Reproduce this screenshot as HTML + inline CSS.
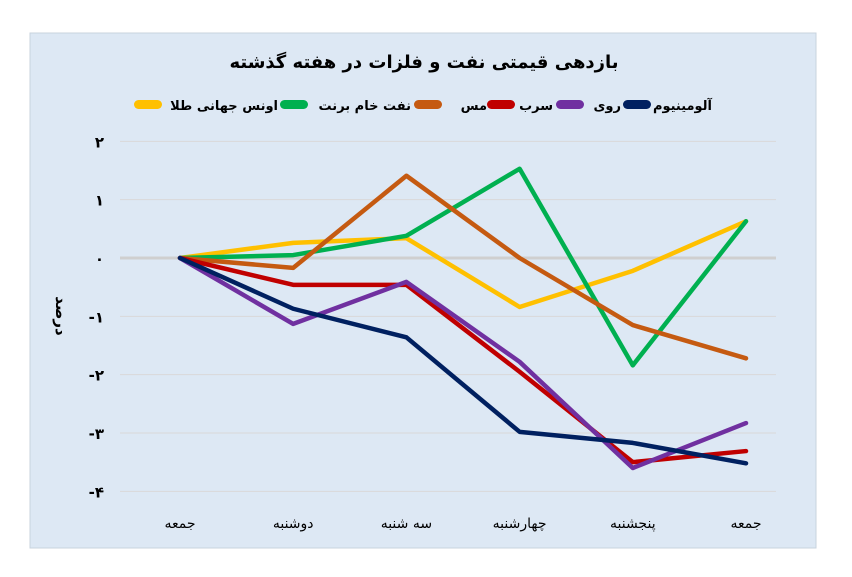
<!DOCTYPE html>
<html><head><meta charset="utf-8">
<style>
html,body{margin:0;padding:0;background:#fff;}
svg{display:block;font-family:"DejaVu Sans","Liberation Sans",sans-serif;}
</style></head>
<body>
<svg id="chart" width="852" height="577" viewBox="0 0 852 577" xmlns="http://www.w3.org/2000/svg">
<rect x="30" y="33" width="786" height="515" fill="#dde8f4" stroke="#c8d3de"/>
<text x="424" y="68" text-anchor="middle" font-size="18" font-weight="bold" fill="#000" direction="rtl">بازدهی قیمتی نفت و فلزات در هفته گذشته</text>
<g id="legend"></g>
<g id="grid"></g>
<g id="yaxis"></g>
<g id="xaxis"></g>
<text transform="translate(56,316) rotate(90)" text-anchor="middle" font-size="15" font-weight="bold" fill="#000" direction="rtl">درصد</text>
<g id="series"></g>
</svg>
<script>
const categories = ["جمعه","دوشنبه","سه شنبه","چهارشنبه","پنجشنبه","جمعه"];
const yTicks = [2,1,0,-1,-2,-3,-4];
const yTickLabels = ["۲","۱","۰","-۱","-۲","-۳","-۴"];
const seriesNames = ["اونس جهانی طلا","نفت خام برنت","مس","سرب","روی","آلومینیوم"];
const seriesColors = ["#ffc000","#00b050","#c55a11","#c00000","#7030a0","#002060"];
const gold = [0,0.26,0.34,-0.84,-0.22,0.63];
const brent = [0,0.05,0.38,1.53,-1.84,0.63];
const copper = [0,-0.17,1.41,0,-1.15,-1.72];
const lead = [0,-0.46,-0.46,-1.95,-3.5,-3.31];
const zinc = [0,-1.13,-0.41,-1.78,-3.6,-2.83];
const aluminum = [0,-0.87,-1.36,-2.98,-3.17,-3.52];
const allSeries = [gold,brent,copper,lead,zinc,aluminum];

const NS="http://www.w3.org/2000/svg";
function yScale(v){return 258-v*58.33;}
function xScale(i){return 180+i*113.2;}
function mk(tag,attrs,parent){const e=document.createElementNS(NS,tag);for(const k in attrs)e.setAttribute(k,attrs[k]);parent.appendChild(e);return e;}

const grid=document.getElementById('grid'), yaxis=document.getElementById('yaxis'), xaxis=document.getElementById('xaxis');
yTicks.forEach((t,i)=>{
  const l=mk('line',{x1:120,x2:776,y1:yScale(t),y2:yScale(t),stroke:t===0?'#cfcfcf':'#d9d9d9','stroke-width':t===0?3:1},grid);
  
  
  const tx=mk('text',{x:104,y:yScale(t)+6,'text-anchor':'end','font-size':15,'font-weight':'bold',fill:'#000'},yaxis);
  tx.textContent=yTickLabels[i];
  
  
});
categories.forEach((c,i)=>{
  const tx=mk('text',{x:xScale(i),y:528,'text-anchor':'middle','font-size':14,fill:'#000',direction:'rtl'},xaxis);
  tx.textContent=c;
  
  
});
const sg=document.getElementById('series');
allSeries.forEach((s,k)=>{
  const pts=s.map((v,i)=>xScale(i)+','+yScale(v)).join(' ');
  const p=mk('polyline',{points:pts,fill:'none',stroke:seriesColors[k],'stroke-width':4.5,'stroke-linejoin':'round','stroke-linecap':'round'},sg);
  
  
});
// legend layout (rtl): text right edge and swatch left edge per entry
const lg=document.getElementById('legend');
const legendTextRight=[278,411,487,553,621,712];
const legendSwatchLeft=[134,280,414,487,556,623];
seriesNames.forEach((n,k)=>{
  const sw=mk('rect',{x:legendSwatchLeft[k],y:100,width:28,height:9,rx:4.5,fill:seriesColors[k]},lg);
  
  
  const tx=mk('text',{x:legendTextRight[k],y:110,'text-anchor':'end','font-size':13,'font-weight':'bold',fill:'#000'},lg);
  tx.textContent=n;
  
  
});
// fit legend text widths so they stay between swatches
const texts=lg.querySelectorAll('text');
texts.forEach((t,k)=>{
  const avail=legendTextRight[k]-(legendSwatchLeft[k]+30);
  const w=t.getComputedTextLength();
  if(w>avail){t.setAttribute('textLength',avail);t.setAttribute('lengthAdjust','spacingAndGlyphs');}
});
</script>
</body></html>
